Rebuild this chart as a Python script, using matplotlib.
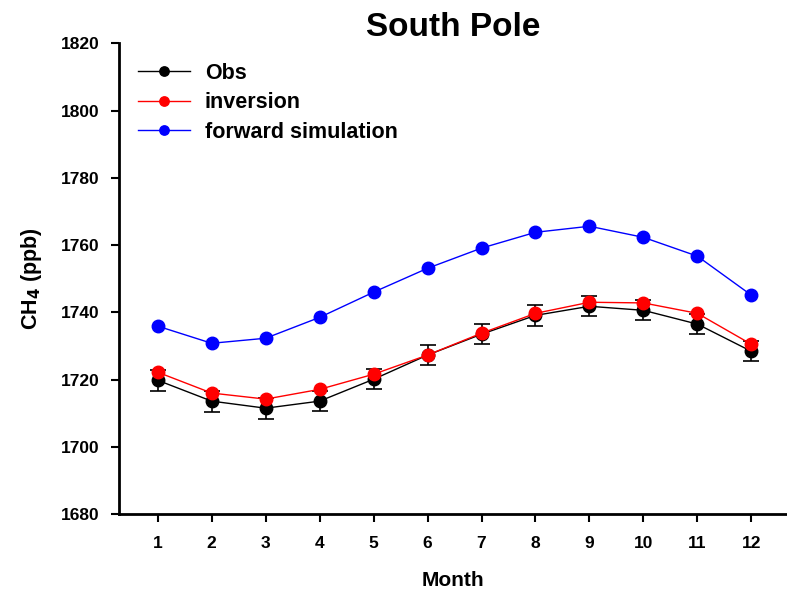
import numpy as np
import matplotlib.pyplot as plt

plt.rcParams['font.family'] = ['Liberation Sans', 'DejaVu Sans']
plt.rcParams['font.weight'] = 'bold'

months = [1, 2, 3, 4, 5, 6, 7, 8, 9, 10, 11, 12]
obs = [1719.8, 1713.6, 1711.5, 1713.6, 1720.1, 1727.3, 1733.5, 1739.1, 1741.8, 1740.6, 1736.5, 1728.4]
obs_err = [3.2, 3.1, 3.1, 3.0, 3.0, 3.0, 3.0, 3.1, 3.0, 3.0, 3.0, 3.0]
inversion = [1722.2, 1716.0, 1714.2, 1717.1, 1721.6, 1727.3, 1733.8, 1739.7, 1743.0, 1742.8, 1739.7, 1730.5]
forward = [1735.9, 1730.8, 1732.3, 1738.5, 1746.0, 1753.1, 1759.1, 1763.8, 1765.6, 1762.3, 1756.7, 1745.1]

fig = plt.figure(figsize=(7.87, 5.93), dpi=100)
ax = fig.add_axes([0.151, 0.133, 0.849, 0.794])

ax.errorbar(months, obs, yerr=obs_err, fmt='none', ecolor='black',
            capsize=6, elinewidth=1.2, capthick=1.2, zorder=2)
ax.plot(months, obs, color='black', marker='o', markersize=9, lw=1,
        label='Obs', zorder=3)
ax.plot(months, inversion, color='red', marker='o', markersize=9, lw=1,
        label='inversion', zorder=4)
ax.plot(months, forward, color='blue', marker='o', markersize=9, lw=1,
        label='forward simulation', zorder=4)

ax.set_xlim(0.28, 12.66)
ax.set_ylim(1680, 1820)
ax.set_xticks(months)
ax.set_yticks(np.arange(1680, 1821, 20))
ax.tick_params(axis='both', labelsize=12.5, width=1.5, length=6, direction='out')
ax.tick_params(axis='x', pad=10)
ax.tick_params(axis='y', pad=8)
for lab in ax.get_xticklabels() + ax.get_yticklabels():
    lab.set_fontweight('bold')

ax.spines['top'].set_visible(False)
ax.spines['right'].set_visible(False)
ax.spines['left'].set_linewidth(2)
ax.spines['bottom'].set_linewidth(2)

ax.set_xlabel('Month', fontsize=15, fontweight='bold', labelpad=14)
ax.set_ylabel('CH$_\\mathbf{4}$ (ppb)', fontsize=15.5, fontweight='bold', labelpad=12)
ax.set_title('South Pole', fontsize=24, fontweight='bold', pad=3)

leg = ax.legend(loc='upper left', frameon=False, fontsize=15.5, handlelength=2.4,
                markerscale=0.75, borderaxespad=0.5, labelspacing=0.4,
                handletextpad=0.7)

fig.savefig('out.png', dpi=100)
